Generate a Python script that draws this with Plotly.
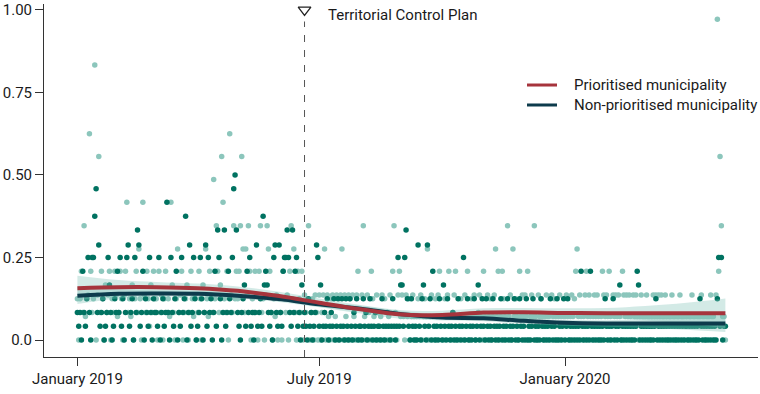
import plotly.graph_objects as go
import pandas as pd

# ---------------- data ----------------
# value lookup for the per-day codes
CODE_VALUES = {
    '0': 0.0, '1': 0.042, '2': 0.071, '3': 0.083, '4': 0.125, '5': 0.136,
    '6': 0.167, '7': 0.208, '8': 0.25, '9': 0.276, 'a': 0.288, 'b': 0.333,
    'c': 0.346, 'd': 0.375, 'e': 0.417, 'f': 0.458, 'g': 0.5, 'h': 0.556,
    'i': 0.625, 'j': 0.833, 'k': 0.972, 'm': 0.486,
}

month_starts = ['2019-01-01', '2019-02-01', '2019-03-01', '2019-04-01', '2019-05-01',
                '2019-06-01', '2019-07-01', '2019-08-01', '2019-09-01', '2019-10-01',
                '2019-11-01', '2019-12-01', '2020-01-01', '2020-02-01', '2020-03-01',
                '2020-04-01']

# prioritised municipalities (light dots), one code per day
prioritised_codes = [
    "40473c245i734j05h37406357043752",
    "374057e34260473940e537416374",
    "4073504734" "2e63049357" "0346037425" "0",
    "374063942753m4c736he4370i53c47",
    "47ch9395c70437507c3405c97304250",
    "430743507c493074370534c0340530",
    "5035905204502504590520540520570",
    "05c2053074205302504302507c30572",
    "520524025202425024290252042572",
    "2042572035720242052702425023520",
    "720524025927027420c25092420725",
    "25270252c2052420252205242025202",
    "2520252479252025725202525202752",
    "52720525252075252520525202522",
    "2522025252525225202252202252220",
    "20225220222522022252205k7hc220",
]

# non-prioritised municipalities (dark dots), one code per day
nonprioritised_codes = [
    "3130731483088df3a13401386301437",
    "3814038a134083ba137043183043",
    "31803413e3" "0831470318" "34d03a1384" "0",
    "138403a18340371b8403b137438fgb",
    "31034617381303a1341d67631308a31",
    "a31788b831b37813061310413013a8",
    "1601314013140140141041041031401",
    "1041301410130110410131014101816",
    "618b41041010a104610a1407101041",
    "0610410130104101801401014016014",
    "104101041010140101401014010410",
    "1040101401010410101041010401014",
    "0140101010107101010710101010104",
    "10101401016010101010101760101",
    "0101010140101010101010101010101",
    "101010101041010101010104818011",
]

# smoothed trends with confidence bands
smooth_dates = ['2019-01-01', '2019-02-01', '2019-03-01', '2019-04-01', '2019-05-01',
                '2019-06-01', '2019-07-01', '2019-08-01', '2019-09-01', '2019-10-01',
                '2019-11-01', '2019-12-01', '2020-01-01', '2020-02-01', '2020-03-01',
                '2020-04-01', '2020-04-30']
prio_fit = [0.157, 0.160, 0.160, 0.157, 0.149, 0.133, 0.113, 0.093, 0.077, 0.076,
            0.083, 0.084, 0.082, 0.081, 0.081, 0.081, 0.081]
prio_hi = [0.195, 0.182, 0.176, 0.171, 0.162, 0.146, 0.126, 0.106, 0.090, 0.089,
           0.096, 0.097, 0.096, 0.097, 0.103, 0.113, 0.126]
prio_lo = [0.119, 0.138, 0.144, 0.143, 0.136, 0.120, 0.100, 0.080, 0.064, 0.063,
           0.070, 0.071, 0.068, 0.065, 0.059, 0.049, 0.036]
nonprio_fit = [0.134, 0.140, 0.141, 0.140, 0.134, 0.124, 0.108, 0.095, 0.078, 0.068,
               0.066, 0.058, 0.052, 0.050, 0.050, 0.050, 0.050]
nonprio_hi = [0.159, 0.154, 0.151, 0.149, 0.143, 0.133, 0.117, 0.104, 0.087, 0.077,
              0.075, 0.067, 0.061, 0.060, 0.063, 0.069, 0.076]
nonprio_lo = [0.109, 0.126, 0.131, 0.131, 0.125, 0.115, 0.099, 0.086, 0.069, 0.059,
              0.057, 0.049, 0.043, 0.040, 0.037, 0.031, 0.024]

event_date = '2019-06-20'
event_label = 'Territorial Control Plan'
event_label_date = '2019-07-06'

legend_labels = ['Prioritised municipality', 'Non-prioritised municipality']

x_tick_vals = ['2019-01-01', '2019-07-01', '2020-01-01']
x_tick_text = ['January 2019', 'July 2019', 'January 2020']
y_tick_vals = [0, 0.25, 0.5, 0.75, 1.0]
y_tick_text = ['0.0', '0.25', '0.50', '0.75', '1.00']

# ---------------- styling ----------------
FONT = "Roboto, 'Liberation Sans', sans-serif"
FS = 15
TXT = '#1a1a1a'
LIGHT = '#8cc6bc'
DARK = '#007261'
RED = '#a6343c'
NAVY = '#0d3b4c'
BAND = 'rgba(130,195,184,0.35)'


def decode(codes):
    xs, ys = [], []
    for start, s in zip(month_starts, codes):
        d0 = pd.Timestamp(start)
        for i, ch in enumerate(s):
            if ch == '.':
                continue
            xs.append(d0 + pd.Timedelta(days=i))
            ys.append(CODE_VALUES[ch])
    return xs, ys


px_, py_ = decode(prioritised_codes)
nx_, ny_ = decode(nonprioritised_codes)

fig = go.Figure()

fig.add_trace(go.Scatter(x=px_, y=py_, mode='markers', showlegend=False,
                         marker=dict(color=LIGHT, size=5.5, line=dict(width=0))))
fig.add_trace(go.Scatter(x=nx_, y=ny_, mode='markers', showlegend=False,
                         marker=dict(color=DARK, size=5.5, line=dict(width=0))))

# confidence bands
for lo, hi in [(nonprio_lo, nonprio_hi), (prio_lo, prio_hi)]:
    fig.add_trace(go.Scatter(x=smooth_dates, y=lo, mode='lines', showlegend=False,
                             line=dict(width=0, shape='spline'), hoverinfo='skip'))
    fig.add_trace(go.Scatter(x=smooth_dates, y=hi, mode='lines', showlegend=False,
                             line=dict(width=0, shape='spline'), fill='tonexty',
                             fillcolor=BAND, hoverinfo='skip'))

fig.add_trace(go.Scatter(x=smooth_dates, y=nonprio_fit, mode='lines', showlegend=False,
                         name=legend_labels[1],
                         line=dict(color=NAVY, width=4, shape='spline')))
fig.add_trace(go.Scatter(x=smooth_dates, y=prio_fit, mode='lines', showlegend=False,
                         name=legend_labels[0],
                         line=dict(color=RED, width=4, shape='spline')))

# event marker
fig.add_shape(type='line', xref='x', yref='y', x0=event_date, x1=event_date,
              y0=-0.0515, y1=0.965, line=dict(color='#555555', width=1, dash='7px,8px'))
fig.add_trace(go.Scatter(x=[event_date], y=[1.0], mode='markers', showlegend=False,
                         cliponaxis=False,
                         marker=dict(symbol='triangle-down-open', size=11,
                                     color='#222222', line=dict(width=1.3, color='#222222'))))
fig.add_annotation(x=event_label_date, y=0.985, xref='x', yref='y', text=event_label,
                   showarrow=False, xanchor='left', yanchor='middle',
                   font=dict(family=FONT, size=FS, color=TXT))

# legend (drawn as keys + text in paper coordinates)
legend_colors = [RED, NAVY]
legend_rows_y = [0.7705, 0.7139]
for lab, col, ly in zip(legend_labels, legend_colors, legend_rows_y):
    fig.add_shape(type='line', xref='paper', yref='paper', x0=0.6765, x1=0.7185,
                  y0=ly, y1=ly, line=dict(color=col, width=3))
    fig.add_annotation(x=0.7395, y=ly, xref='paper', yref='paper', text=lab,
                       showarrow=False, xanchor='left', yanchor='middle',
                       font=dict(family=FONT, size=FS, color=TXT))

fig.update_layout(
    width=760, height=394,
    margin=dict(l=44, r=2, t=4, b=37, autoexpand=False),
    paper_bgcolor='white', plot_bgcolor='white',
    font=dict(family=FONT, size=FS, color=TXT),
    showlegend=False,
    xaxis=dict(range=['2018-12-07', '2020-05-24 10:00'], showgrid=False, zeroline=False,
               automargin=False,
               showline=True, linecolor='#333333', linewidth=1,
               ticks='outside', ticklen=8, tickcolor='#333333', tickwidth=1,
               tickvals=x_tick_vals, ticktext=x_tick_text,
               tickfont=dict(family=FONT, size=FS, color=TXT)),
    yaxis=dict(range=[-0.0515, 1.018], showgrid=False, zeroline=False,
               automargin=False,
               showline=True, linecolor='#333333', linewidth=1,
               ticks='outside', ticklen=8, tickcolor='#333333', tickwidth=1,
               tickvals=y_tick_vals, ticktext=y_tick_text,
               tickfont=dict(family=FONT, size=FS, color=TXT)),
)

fig.write_html("out.html", config={'displayModeBar': False},
               post_script="document.body.style.margin='0';document.body.style.padding='0';")
